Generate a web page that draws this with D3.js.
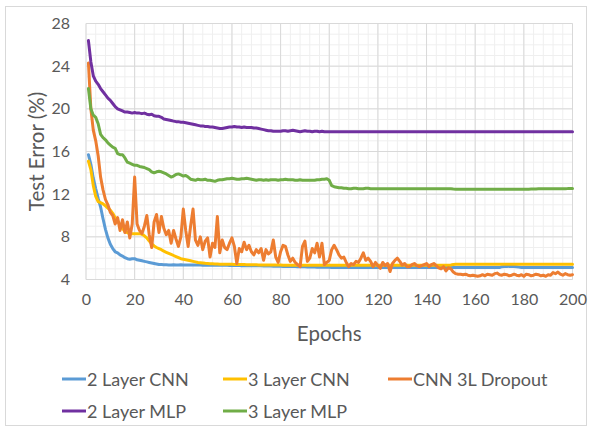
<!DOCTYPE html>
<html>
<head>
<meta charset="utf-8">
<script src="https://cdn.jsdelivr.net/npm/d3@7"></script>
<style>
  body { margin: 0; background: #fff; }
  svg { display: block; font-family: Lato, "Open Sans", sans-serif; }
</style>
</head>
<body>
<svg id="chart" width="593" height="427"></svg>
<script>
// Test error (%) per training epoch, epochs 1..200
const twoLayerCNN = [
  15.7,14.8,13.5,12.5,11.6,10.8,9.7,8.7,7.9,7.3,
  6.9,6.6,6.5,6.3,6.2,6.05,5.95,5.9,5.95,5.95,
  5.85,5.8,5.75,5.7,5.65,5.6,5.55,5.5,5.45,5.4,
  5.4,5.38,5.38,5.36,5.36,5.38,5.36,5.36,5.38,5.36,
  5.36,5.35,5.36,5.35,5.35,5.36,5.35,5.34,5.35,5.34,
  5.34,5.34,5.33,5.34,5.33,5.33,5.34,5.33,5.32,5.32,
  5.32,5.31,5.31,5.3,5.3,5.3,5.29,5.3,5.29,5.28,
  5.28,5.28,5.27,5.27,5.26,5.26,5.25,5.25,5.24,5.24,
  5.23,5.23,5.22,5.22,5.21,5.21,5.2,5.2,5.19,5.19,
  5.18,5.18,5.17,5.17,5.16,5.16,5.15,5.15,5.14,5.14,
  5.12,5.12,5.12,5.12,5.12,5.12,5.12,5.12,5.12,5.12,
  5.12,5.12,5.12,5.12,5.12,5.12,5.12,5.12,5.12,5.12,
  5.12,5.12,5.12,5.12,5.12,5.12,5.12,5.12,5.12,5.12,
  5.12,5.12,5.12,5.12,5.12,5.12,5.12,5.12,5.12,5.12,
  5.12,5.12,5.12,5.12,5.12,5.12,5.12,5.12,5.12,5.12,
  5.12,5.12,5.12,5.12,5.12,5.12,5.12,5.12,5.12,5.12,
  5.12,5.12,5.12,5.12,5.12,5.12,5.12,5.12,5.12,5.12,
  5.2,5.22,5.22,5.24,5.22,5.22,5.2,5.16,5.12,5.12,
  5.12,5.12,5.12,5.12,5.12,5.12,5.12,5.12,5.12,5.12,
  5.12,5.12,5.12,5.12,5.12,5.12,5.12,5.12,5.12,5.12
];

const threeLayerCNN = [
  15.1,14.3,12.8,11.8,11.3,11.2,11.1,10.9,10.7,10.5,
  10.2,9.8,9.5,9.1,8.8,8.5,8.4,8.3,8.3,8.3,
  8.3,8.3,8.25,8.1,7.9,7.6,7.35,7.15,7.0,6.9,
  6.8,6.65,6.55,6.45,6.35,6.25,6.15,6.05,5.95,5.9,
  5.85,5.8,5.75,5.7,5.65,5.6,5.58,5.55,5.52,5.5,
  5.48,5.47,5.46,5.45,5.44,5.44,5.43,5.43,5.42,5.42,
  5.41,5.41,5.4,5.4,5.4,5.39,5.39,5.38,5.38,5.38,
  5.37,5.37,5.37,5.36,5.36,5.36,5.35,5.35,5.35,5.35,
  5.34,5.34,5.34,5.34,5.33,5.33,5.33,5.33,5.33,5.33,
  5.33,5.33,5.33,5.33,5.33,5.33,5.33,5.33,5.33,5.33,
  5.34,5.34,5.34,5.34,5.34,5.34,5.34,5.34,5.34,5.34,
  5.34,5.34,5.34,5.34,5.34,5.34,5.34,5.34,5.34,5.34,
  5.34,5.34,5.34,5.34,5.34,5.34,5.34,5.34,5.34,5.34,
  5.34,5.34,5.34,5.34,5.34,5.34,5.34,5.34,5.34,5.34,
  5.34,5.34,5.34,5.34,5.34,5.34,5.34,5.34,5.34,5.36,
  5.4,5.42,5.42,5.42,5.42,5.42,5.42,5.42,5.42,5.42,
  5.42,5.42,5.42,5.42,5.42,5.42,5.42,5.42,5.42,5.42,
  5.42,5.42,5.42,5.42,5.42,5.42,5.42,5.42,5.42,5.42,
  5.42,5.42,5.42,5.42,5.42,5.42,5.42,5.42,5.42,5.42,
  5.42,5.42,5.42,5.42,5.42,5.42,5.42,5.42,5.42,5.42
];

const cnn3LDropout = [
  24.3,20.0,18.0,17.0,15.6,13.6,12.4,11.5,11.0,10.3,
  10.0,9.2,9.8,8.6,9.6,8.4,9.4,7.9,9.2,13.6,
  9.2,8.6,8.3,9.0,10.0,8.2,7.0,9.4,10.1,8.4,
  9.9,8.8,8.2,8.6,7.4,8.6,7.8,7.1,8.0,10.6,
  8.6,7.1,9.0,10.6,7.7,7.2,8.0,6.8,7.6,7.9,
  6.1,7.4,7.0,9.9,6.5,7.7,7.0,6.8,7.4,7.9,
  7.1,5.5,6.9,6.6,7.5,6.8,7.2,6.6,6.3,6.8,
  6.5,6.9,5.8,6.8,6.4,6.6,7.7,6.1,5.6,6.6,
  7.2,7.1,6.3,5.7,6.0,5.6,5.4,5.2,7.1,7.6,
  5.7,6.0,6.9,6.5,7.4,6.1,7.4,5.4,5.6,5.8,
  6.8,7.2,6.8,6.3,6.0,6.1,5.6,5.2,5.5,5.4,
  5.7,5.6,6.0,6.5,5.8,6.0,5.7,5.2,5.6,5.3,
  5.05,5.6,5.3,5.5,4.75,5.5,5.8,6.0,5.7,5.35,
  5.5,5.2,5.2,5.4,5.5,5.3,5.2,5.3,5.4,5.5,
  5.2,5.4,5.5,5.3,5.1,5.0,5.2,4.8,5.1,5.0,
  4.7,4.55,4.5,4.5,4.45,4.5,4.4,4.35,4.4,4.35,
  4.3,4.35,4.45,4.35,4.5,4.45,4.4,4.55,4.6,4.45,
  4.4,4.5,4.45,4.35,4.4,4.5,4.4,4.35,4.45,4.3,
  4.5,4.45,4.35,4.4,4.5,4.45,4.35,4.4,4.3,4.45,
  4.4,4.65,4.55,4.7,4.5,4.4,4.55,4.45,4.4,4.45
];

const twoLayerMLP = [
  26.4,24.4,23.1,22.6,22.3,21.9,21.6,21.3,21.0,20.8,
  20.5,20.2,20.0,19.9,19.8,19.7,19.7,19.65,19.6,19.65,
  19.6,19.6,19.55,19.6,19.5,19.45,19.5,19.35,19.3,19.3,
  19.2,19.05,19.0,18.95,18.9,18.85,18.8,18.8,18.75,18.75,
  18.7,18.65,18.6,18.55,18.5,18.45,18.4,18.4,18.35,18.35,
  18.3,18.3,18.25,18.2,18.15,18.15,18.2,18.25,18.3,18.3,
  18.35,18.3,18.3,18.25,18.3,18.25,18.25,18.25,18.2,18.2,
  18.15,18.1,18.05,18.0,17.95,17.95,17.9,17.9,17.9,17.9,
  17.95,17.95,17.9,17.95,18.0,17.95,17.9,17.85,17.9,17.95,
  17.9,17.9,17.85,17.9,17.9,17.85,17.9,17.85,17.85,17.85,
  17.85,17.85,17.85,17.85,17.85,17.85,17.85,17.85,17.85,17.85,
  17.85,17.85,17.85,17.85,17.85,17.85,17.85,17.85,17.85,17.85,
  17.85,17.85,17.85,17.85,17.85,17.85,17.85,17.85,17.85,17.85,
  17.85,17.85,17.85,17.85,17.85,17.85,17.85,17.85,17.85,17.85,
  17.85,17.85,17.85,17.85,17.85,17.85,17.85,17.85,17.85,17.85,
  17.85,17.85,17.85,17.85,17.85,17.85,17.85,17.85,17.85,17.85,
  17.85,17.85,17.85,17.85,17.85,17.85,17.85,17.85,17.85,17.85,
  17.85,17.85,17.85,17.85,17.85,17.85,17.85,17.85,17.85,17.85,
  17.85,17.85,17.85,17.85,17.85,17.85,17.85,17.85,17.85,17.85,
  17.85,17.85,17.85,17.85,17.85,17.85,17.85,17.85,17.85,17.85
];

const threeLayerMLP = [
  21.9,20.0,19.4,19.2,18.6,17.6,17.3,17.1,16.8,16.6,
  16.4,16.3,15.8,15.7,15.7,15.4,15.0,14.9,14.8,14.7,
  14.7,14.6,14.55,14.5,14.4,14.3,14.1,14.0,14.1,14.15,
  14.1,14.0,13.9,13.75,13.6,13.7,13.85,13.9,13.8,13.7,
  13.75,13.6,13.4,13.35,13.3,13.4,13.35,13.35,13.4,13.3,
  13.3,13.25,13.2,13.3,13.35,13.35,13.4,13.45,13.45,13.5,
  13.45,13.4,13.4,13.45,13.45,13.5,13.45,13.4,13.35,13.3,
  13.35,13.35,13.3,13.35,13.3,13.35,13.35,13.35,13.3,13.35,
  13.35,13.4,13.35,13.35,13.35,13.3,13.3,13.35,13.3,13.3,
  13.3,13.3,13.3,13.3,13.35,13.35,13.4,13.4,13.45,13.3,
  12.8,12.7,12.65,12.6,12.6,12.55,12.55,12.5,12.5,12.55,
  12.55,12.5,12.5,12.5,12.55,12.55,12.5,12.5,12.5,12.5,
  12.5,12.5,12.5,12.5,12.5,12.5,12.5,12.5,12.5,12.5,
  12.5,12.5,12.5,12.5,12.5,12.5,12.5,12.5,12.5,12.5,
  12.5,12.5,12.5,12.5,12.5,12.5,12.5,12.5,12.5,12.5,
  12.48,12.47,12.47,12.46,12.46,12.46,12.45,12.45,12.45,12.45,
  12.45,12.45,12.45,12.45,12.45,12.45,12.45,12.45,12.45,12.45,
  12.45,12.45,12.45,12.45,12.45,12.45,12.45,12.45,12.45,12.45,
  12.46,12.47,12.48,12.48,12.49,12.5,12.5,12.5,12.5,12.5,
  12.5,12.5,12.5,12.5,12.5,12.5,12.5,12.52,12.52,12.52
];

const seriesNames = ["2 Layer CNN", "3 Layer CNN", "CNN 3L Dropout", "2 Layer MLP", "3 Layer MLP"];
const seriesColors = ["#5B9BD5", "#FFC000", "#ED7D31", "#7030A0", "#70AD47"];
const seriesValues = [twoLayerCNN, threeLayerCNN, cnn3LDropout, twoLayerMLP, threeLayerMLP];

const xTickValues = [0, 20, 40, 60, 80, 100, 120, 140, 160, 180, 200];
const yTickValues = [4, 8, 12, 16, 20, 24, 28];

const series = seriesNames.map((name, i) => ({
  name, color: seriesColors[i],
  points: seriesValues[i].map((v, j) => ({ epoch: j + 1, value: v }))
}));

const svg = d3.select("#chart");
const textColor = "#595959";

// Chart frame
svg.append("rect")
  .attr("x", 5.5).attr("y", 6.5)
  .attr("width", 581).attr("height", 419)
  .attr("fill", "#fff").attr("stroke", "#d9d9d9");

const x = d3.scaleLinear().domain([0, 200]).range([86, 572.5]);
const y = d3.scaleLinear().domain([4, 28]).range([279.5, 23.5]);

// Minor gridlines
const grid = svg.append("g");
grid.selectAll("line.minor-x")
  .data(d3.range(0, 201, 4))
  .join("line")
  .attr("x1", d => x(d)).attr("x2", d => x(d))
  .attr("y1", y(4)).attr("y2", y(28))
  .attr("stroke", "#efefef").attr("stroke-width", 1);
grid.selectAll("line.minor-y")
  .data(d3.range(4, 29, 1))
  .join("line")
  .attr("x1", x(0)).attr("x2", x(200))
  .attr("y1", d => y(d)).attr("y2", d => y(d))
  .attr("stroke", "#efefef").attr("stroke-width", 1);

// Major gridlines
svg.append("g").selectAll("line")
  .data(xTickValues)
  .join("line")
  .attr("x1", d => x(d)).attr("x2", d => x(d))
  .attr("y1", y(4)).attr("y2", y(28))
  .attr("stroke", "#d9d9d9").attr("stroke-width", 1);
svg.append("g").selectAll("line")
  .data(yTickValues)
  .join("line")
  .attr("x1", x(0)).attr("x2", x(200))
  .attr("y1", d => y(d)).attr("y2", d => y(d))
  .attr("stroke", "#d9d9d9").attr("stroke-width", 1);

// Axes (labels only)
const xAxis = svg.append("g")
  .attr("transform", `translate(0,${y(4)})`)
  .call(d3.axisBottom(x).tickValues(xTickValues).tickSize(0).tickPadding(14));
const yAxis = svg.append("g")
  .attr("transform", `translate(${x(0)},0)`)
  .call(d3.axisLeft(y).tickValues(yTickValues).tickSize(0).tickPadding(16));
[xAxis, yAxis].forEach(g => {
  g.select(".domain").remove();
  g.selectAll("text")
    .attr("fill", textColor)
    .style("font-family", "Lato, 'Open Sans', sans-serif")
    .style("font-size", "16px");
});

// Axis titles
svg.append("text")
  .attr("x", (x(0) + x(200)) / 2).attr("y", 341)
  .attr("text-anchor", "middle")
  .attr("fill", textColor)
  .style("font-size", "20.5px")
  .text("Epochs");
svg.append("text")
  .attr("transform", `translate(43.5,${(y(4) + y(28)) / 2}) rotate(-90)`)
  .attr("text-anchor", "middle")
  .attr("fill", textColor)
  .style("font-size", "20.5px")
  .text("Test Error (%)");

// Series lines
const line = d3.line()
  .x(d => x(d.epoch))
  .y(d => y(d.value));
svg.append("g").selectAll("path")
  .data(series)
  .join("path")
  .attr("d", d => line(d.points))
  .attr("fill", "none")
  .attr("stroke", d => d.color)
  .attr("stroke-width", 3)
  .attr("stroke-linejoin", "round")
  .attr("stroke-linecap", "round");

// Legend
const legendPos = [
  { x: 62, y: 379 }, { x: 223, y: 379 }, { x: 388, y: 379 },
  { x: 62, y: 411 }, { x: 223, y: 411 }
];
const legend = svg.append("g").selectAll("g")
  .data(series)
  .join("g")
  .attr("transform", (d, i) => `translate(${legendPos[i].x},${legendPos[i].y})`);
legend.append("line")
  .attr("x1", 0).attr("x2", 24)
  .attr("stroke", d => d.color)
  .attr("stroke-width", 3);
legend.append("text")
  .attr("x", 25).attr("y", 6.5)
  .attr("fill", textColor)
  .style("font-size", "18px")
  .text(d => d.name);
</script>
</body>
</html>
